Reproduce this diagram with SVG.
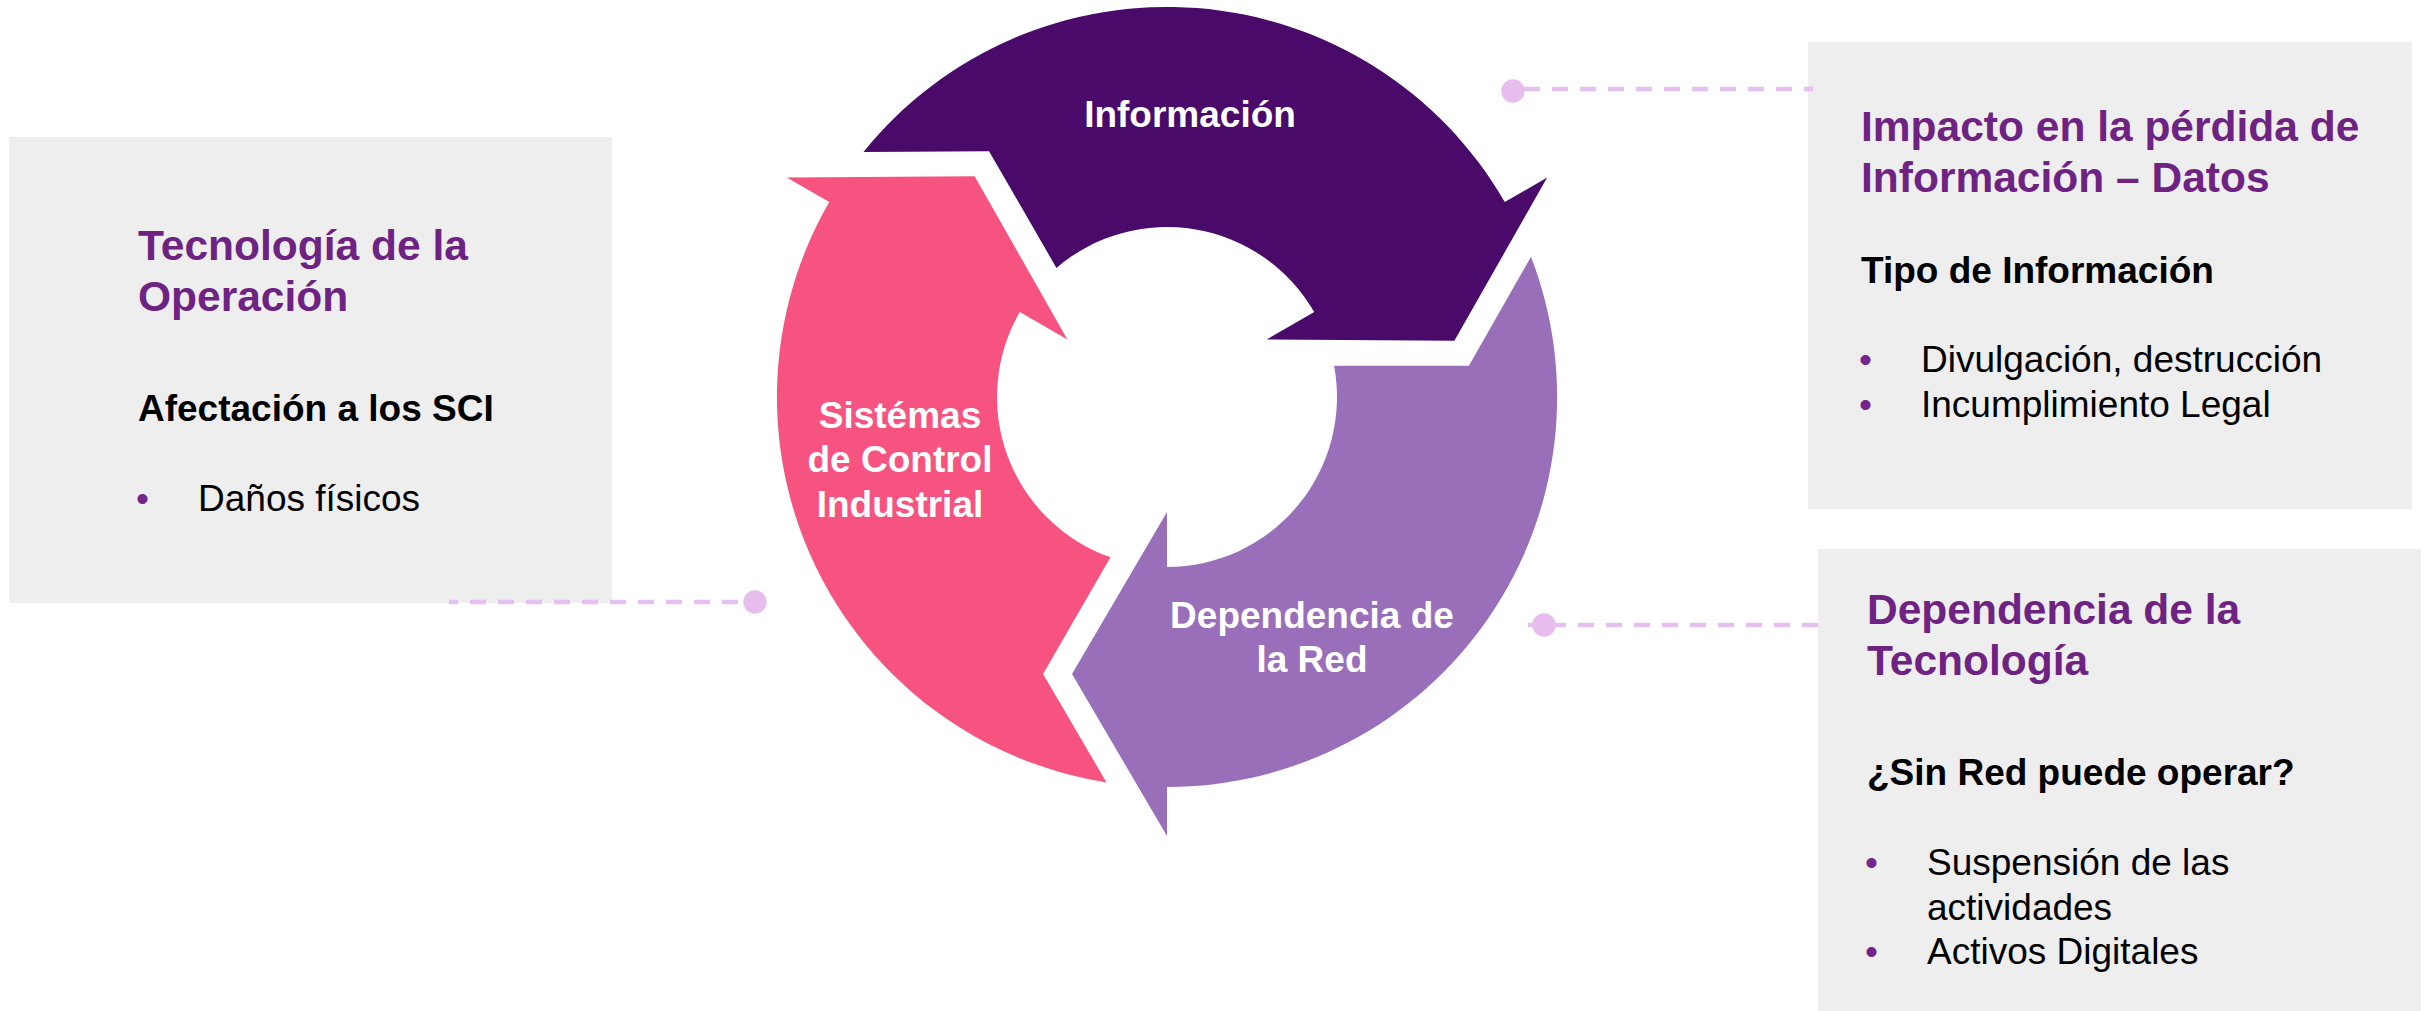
<svg xmlns="http://www.w3.org/2000/svg" xmlns:xlink="http://www.w3.org/1999/xlink" width="2430" height="1011" viewBox="0 0 2430 1011">
<style>
  text { font-family: "Liberation Sans", Arial, sans-serif; }
  .box { fill: #EEEEEE; }
  .title { font-size: 42.5px; font-weight: bold; fill: #6E2383; }
  .sub { font-size: 37px; font-weight: bold; fill: #000000; }
  .item { font-size: 37px; fill: #000000; }
  .bul { font-size: 37px; fill: #74268C; }
  .lbl { font-size: 37px; font-weight: bold; fill: #FFFFFF; text-anchor: middle; }
  .dash { fill: none; stroke: #E6C0EE; stroke-width: 4.5; stroke-dasharray: 16 12; }
  .dot { fill: #E6BDEC; }
</style>
<defs>
  <path id="arrowShape" d="M 1531 256.7 A 390 390 0 0 1 1167 787 L 1167 836 L 1072 674 L 1167 512 L 1167 567 A 170 170 0 0 0 1334.1 365.8 L 1468.9 365.8 Z"/>
</defs>
<rect width="2430" height="1011" fill="#FFFFFF"/>

<g id="box-tecnologia-operacion">
  <rect class="box" x="9" y="137" width="603" height="466"/>
  <text class="title" x="138" y="260">Tecnología de la</text>
  <text class="title" x="138" y="311">Operación</text>
  <text class="sub" x="138" y="421">Afectación a los SCI</text>
  <text class="bul" x="136" y="511">•</text>
  <text class="item" x="198" y="511">Daños físicos</text>
</g>

<g id="box-impacto-informacion">
  <rect class="box" x="1808" y="42" width="604" height="467"/>
  <text class="title" x="1861" y="141">Impacto en la pérdida de</text>
  <text class="title" x="1861" y="192">Información – Datos</text>
  <text class="sub" x="1861" y="283">Tipo de Información</text>
  <text class="bul" x="1859" y="372">•</text>
  <text class="item" x="1921" y="372">Divulgación, destrucción</text>
  <text class="bul" x="1859" y="417">•</text>
  <text class="item" x="1921" y="417">Incumplimiento Legal</text>
</g>

<g id="box-dependencia-tecnologia">
  <rect class="box" x="1818" y="549" width="603" height="462"/>
  <text class="title" x="1867" y="624">Dependencia de la</text>
  <text class="title" x="1867" y="675">Tecnología</text>
  <text class="sub" x="1867" y="785">¿Sin Red puede operar?</text>
  <text class="bul" x="1865" y="875">•</text>
  <text class="item" x="1927" y="875">Suspensión de las</text>
  <text class="item" x="1927" y="920">actividades</text>
  <text class="bul" x="1865" y="964">•</text>
  <text class="item" x="1927" y="964">Activos Digitales</text>
</g>

<g id="node-informacion">
  <use xlink:href="#arrowShape" href="#arrowShape" fill="#4A0A6A" transform="rotate(-120 1167 397)"/>
  <text class="lbl" x="1190" y="127">Información</text>
</g>

<g id="node-dependencia-red">
  <use xlink:href="#arrowShape" href="#arrowShape" fill="#9A6FBA"/>
  <text class="lbl" x="1312" y="628">Dependencia de</text>
  <text class="lbl" x="1312" y="672">la Red</text>
</g>

<g id="node-sistemas-control">
  <use xlink:href="#arrowShape" href="#arrowShape" fill="#F65380" transform="rotate(120 1167 397)"/>
  <text class="lbl" x="900" y="428">Sistémas</text>
  <text class="lbl" x="900" y="472">de Control</text>
  <text class="lbl" x="900" y="517">Industrial</text>
</g>

<g id="connectors">
  <path class="dash" d="M 1524 89 H 1813"/>
  <circle class="dot" cx="1513" cy="91" r="11.7"/>
  <path class="dash" d="M 738 602 H 449"/>
  <circle class="dot" cx="755" cy="602" r="11.7"/>
  <path class="dash" d="M 1818 625 H 1528"/>
  <circle class="dot" cx="1544" cy="625" r="11.7"/>
</g>
</svg>
